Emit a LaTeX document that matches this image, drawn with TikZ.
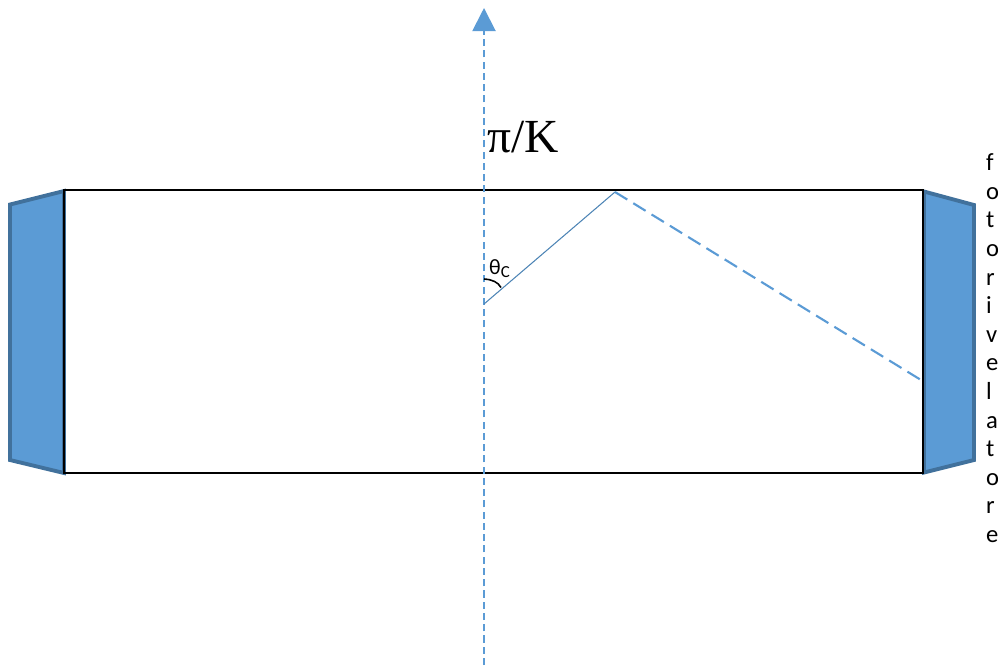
\documentclass[tikz,border=0pt]{standalone}
\usepackage{fontspec}
\setmainfont{Carlito}
\newfontfamily\serifont{Liberation Serif}
\usetikzlibrary{arrows.meta}
\definecolor{rayblue}{HTML}{5B9BD5}
\definecolor{rayedge}{HTML}{41719C}
\tikzset{
  detector/.style={fill=rayblue,draw=rayedge,line width=1.1pt,line join=miter},
  axisline/.style={rayblue,line width=0.55pt,dash pattern=on 2pt off 1.2pt},
  letter/.style={anchor=base west,inner sep=0pt,font=\fontsize{7}{8}\selectfont,text=black}
}
\begin{document}
\begin{tikzpicture}[x=0.01cm,y=-0.01cm]
\path[use as bounding box] (0,0) rectangle (998,666);
% guide
\coordinate (axistop) at (484,8);
\coordinate (axisbot) at (484,665);
\coordinate (rayA) at (484,304);
\coordinate (rayB) at (615,192);
\coordinate (rayC) at (921,380);
% detectors
\draw[detector] (64,191) -- (10,204.5) -- (10,460) -- (64,473) -- cycle;
\draw[detector] (924,191.5) -- (974,205) -- (974,460) -- (924,472.5) -- cycle;
% fibre
\draw[black,line width=0.6pt] (64,190) rectangle (923,473);
% axis
\draw[axisline,-{Triangle[width=6.6pt,length=6.6pt]}] (axisbot) -- (axistop);
% ray
\draw[rayblue!85!black,line width=0.3pt] (rayA) -- (rayB);
\draw[rayblue,line width=0.6pt,dash pattern=on 4.1pt off 2pt] (rayB) -- (rayC);
% angle
\draw[black,line width=0.45pt] (484,279) .. controls (492,279.5) and (498,282) .. (501,287.5);
\node[anchor=base west,inner sep=0pt,font=\fontsize{6.2}{7}\selectfont] (thetaC) at (488.5,274.5) {θ\raisebox{-0.85pt}{\fontsize{4.8}{5}\selectfont C}};
% labels
\node[anchor=base west,inner sep=0pt,font=\serifont\fontsize{13.5}{16}\selectfont] (piK) at (486.5,152.5) {π/K};
\foreach \ch [count=\i from 0] in {f,o,t,o,r,i,v,e,l,a,t,o,r,e}
  \node[letter] (lett\i) at (985.5,170.7+28.6*\i) {\ch};
\end{tikzpicture}
\end{document}
